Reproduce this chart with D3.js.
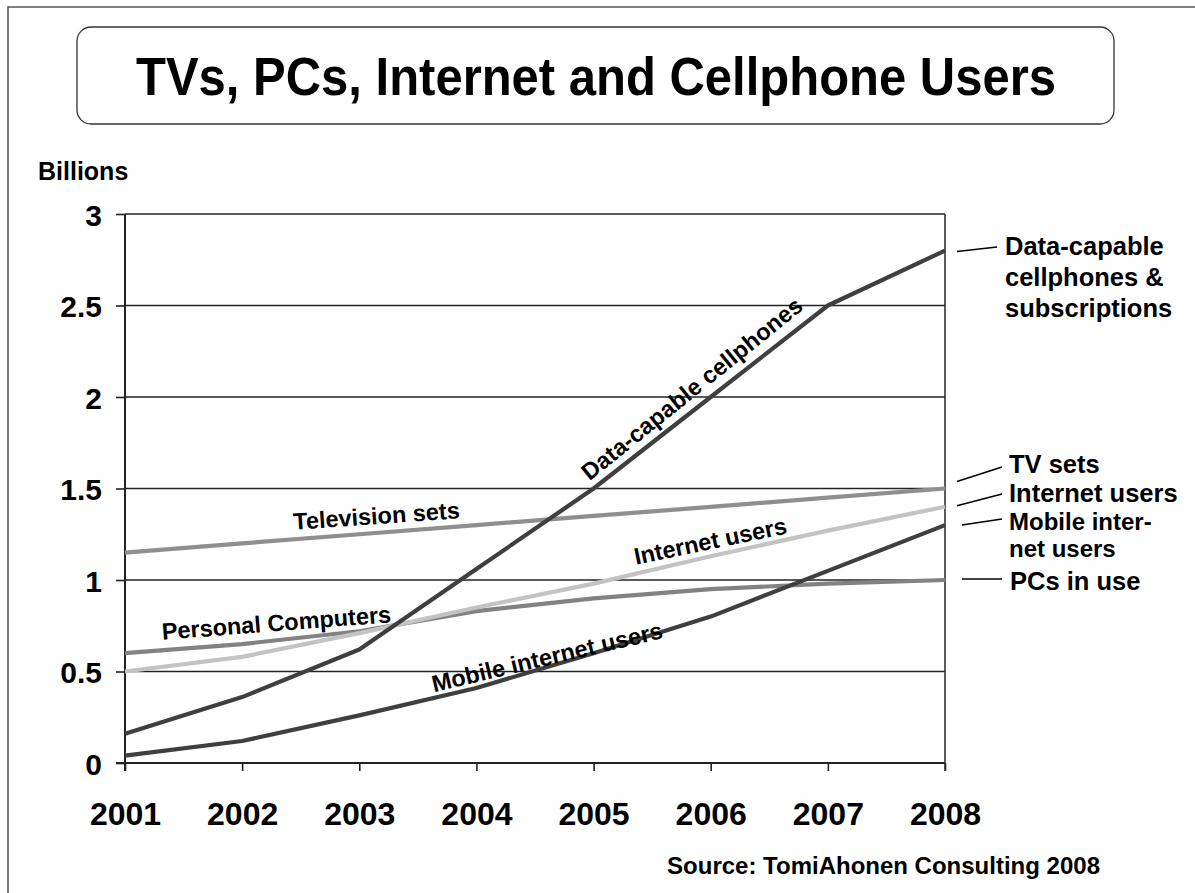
<!DOCTYPE html>
<html>
<head>
<meta charset="utf-8">
<script src="https://cdn.jsdelivr.net/npm/d3@7"></script>
<style>
  body { margin: 0; background: #fff; }
  svg { display: block; font-family: "Liberation Sans", Arial, sans-serif; font-weight: bold; }
  .grid line { stroke: #222; stroke-width: 1.6; }
  .axis path { display: none; }
  .axis line { stroke: #222; stroke-width: 1.6; }
  .axis text { fill: #000; font-family: "Liberation Sans", Arial, sans-serif; font-weight: bold; }
  .x-axis text { font-size: 32px; }
  .y-axis text { font-size: 30px; }
  .series { fill: none; stroke-width: 4.2; stroke-linejoin: round; stroke-linecap: butt; }
  .inline { font-size: 23.5px; fill: #000; }
  .side { font-size: 25.5px; fill: #000; }
  .leader { stroke: #000; stroke-width: 1.5; }
</style>
</head>
<body>
<svg id="chart" width="1195" height="893"></svg>
<script>
// data (billions)
const years = [2001, 2002, 2003, 2004, 2005, 2006, 2007, 2008];
const tvSets      = [1.15, 1.20, 1.25, 1.30, 1.35, 1.40, 1.45, 1.50];
const pcsInUse    = [0.60, 0.65, 0.72, 0.83, 0.90, 0.95, 0.98, 1.00];
const internet    = [0.50, 0.58, 0.71, 0.85, 0.98, 1.13, 1.27, 1.40];
const mobileNet   = [0.04, 0.12, 0.26, 0.41, 0.60, 0.80, 1.05, 1.30];
const dataPhones  = [0.16, 0.36, 0.62, 1.06, 1.50, 2.00, 2.50, 2.80];
const yTicks = [0, 0.5, 1, 1.5, 2, 2.5, 3];

const seriesList = [
  {key: "tv", values: tvSets, color: "#8f8f8f"},
  {key: "pc", values: pcsInUse, color: "#828282"},
  {key: "net", values: internet, color: "#c3c3c3"},
  {key: "mob", values: mobileNet, color: "#3f3f3f"},
  {key: "data", values: dataPhones, color: "#3f3f3f"}
];

const svg = d3.select("svg#chart");

const x = d3.scaleLinear().domain([2001, 2008]).range([125, 945]);
const y = d3.scaleLinear().domain([0, 3]).range([763, 214]);

// outer frame + title box
svg.append("rect")
  .attr("x", 8).attr("y", 7).attr("width", 1200).attr("height", 900)
  .attr("fill", "none").attr("stroke", "#555").attr("stroke-width", 1.5);

svg.append("rect")
  .attr("x", 77).attr("y", 27).attr("width", 1037).attr("height", 97)
  .attr("rx", 14).attr("ry", 14)
  .attr("fill", "#fff").attr("stroke", "#333").attr("stroke-width", 1.3);

svg.append("text")
  .attr("text-anchor", "middle")
  .attr("font-size", 49)
  .attr("transform", "translate(596,95) scale(1,1.08)")
  .text("TVs, PCs, Internet and Cellphone Users");

svg.append("text")
  .attr("x", 38).attr("y", 180)
  .attr("font-size", 25)
  .text("Billions");

// gridlines
svg.append("g")
  .attr("class", "grid")
  .selectAll("line")
  .data(yTicks.filter(d => d > 0))
  .enter().append("line")
    .attr("x1", x(2001)).attr("x2", x(2008))
    .attr("y1", d => y(d)).attr("y2", d => y(d));

// axes
const yAxis = d3.axisLeft(y).tickValues(yTicks).tickSize(9).tickPadding(14).tickFormat(d => d);
svg.append("g").attr("class", "axis y-axis")
  .attr("transform", `translate(${x(2001)},0)`)
  .call(yAxis)
  .selectAll("text").attr("dy", "0.38em");

const xAxis = d3.axisBottom(x).tickValues(years).tickSize(8).tickFormat(d => d);
svg.append("g").attr("class", "axis x-axis")
  .attr("transform", `translate(0,${y(0)})`)
  .call(xAxis)
  .selectAll("text").attr("y", 62).attr("dy", 0);

// axis lines: left, bottom, right frame
svg.append("line")
  .attr("x1", x(2001)).attr("x2", x(2001)).attr("y1", y(3)).attr("y2", y(0) + 8)
  .attr("stroke", "#222").attr("stroke-width", 2);
svg.append("line")
  .attr("x1", x(2001) - 9).attr("x2", x(2008)).attr("y1", y(0)).attr("y2", y(0))
  .attr("stroke", "#222").attr("stroke-width", 2);
svg.append("line")
  .attr("x1", x(2008)).attr("x2", x(2008)).attr("y1", y(3)).attr("y2", y(0) + 8)
  .attr("stroke", "#333").attr("stroke-width", 1.6);

// series lines
const line = d3.line()
  .x((d, i) => x(years[i]))
  .y(d => y(d));

svg.append("g")
  .selectAll("path")
  .data(seriesList)
  .enter().append("path")
    .attr("class", "series")
    .attr("stroke", d => d.color)
    .attr("d", d => line(d.values));

// inline labels (position/angle are layout only)
const inlineLabels = [
  {text: "Television sets", cx: 377, cy: 524, angle: -4},
  {text: "Personal Computers", cx: 277, cy: 631, angle: -4.4},
  {text: "Data-capable cellphones", cx: 697, cy: 395, angle: -38.8},
  {text: "Internet users", cx: 712, cy: 549, angle: -11.7},
  {text: "Mobile internet users", cx: 549, cy: 665, angle: -13.3}
];

svg.append("g")
  .selectAll("text")
  .data(inlineLabels)
  .enter().append("text")
    .attr("class", "inline")
    .attr("text-anchor", "middle")
    .attr("transform", d => `translate(${d.cx},${d.cy}) rotate(${d.angle})`)
    .text(d => d.text);

// right side labels with leader lines
const sideLabels = [
  {series: dataPhones, lines: ["Data-capable", "cellphones &", "subscriptions"], tx: 1005, ty: 255, lx: 997, ly: 247, dy0: 1},
  {series: tvSets, lines: ["TV sets"], tx: 1009, ty: 473, lx: 1002, ly: 467, dy0: -7},
  {series: internet, lines: ["Internet users"], tx: 1009, ty: 502, lx: 1002, ly: 494, dy0: -1},
  {series: mobileNet, lines: ["Mobile inter-", "net users"], tx: 1009, ty: 530, lx: 1002, ly: 519, dy0: 0, lh: 27, fs: 24},
  {series: pcsInUse, lines: ["PCs in use"], tx: 1010, ty: 590, lx: 1002, ly: 579, dy0: -1}
];

const side = svg.append("g");
sideLabels.forEach((s, i) => {
  const last = s.series[s.series.length - 1];
  side.append("line").attr("class", "leader")
    .attr("x1", x(2008) + (i >= 3 ? 17 : 12)).attr("y1", y(last) + s.dy0)
    .attr("x2", s.lx).attr("y2", s.ly);
  s.lines.forEach((ln, j) => {
    const t = side.append("text").attr("class", "side")
      .attr("x", s.tx).attr("y", s.ty + j * (s.lh || 31))
      .text(ln);
    if (s.fs) t.style("font-size", s.fs + "px");
  });
});

svg.append("text")
  .attr("x", 1100).attr("y", 874)
  .attr("text-anchor", "end")
  .attr("font-size", 24)
  .text("Source: TomiAhonen Consulting 2008");
</script>
</body>
</html>
